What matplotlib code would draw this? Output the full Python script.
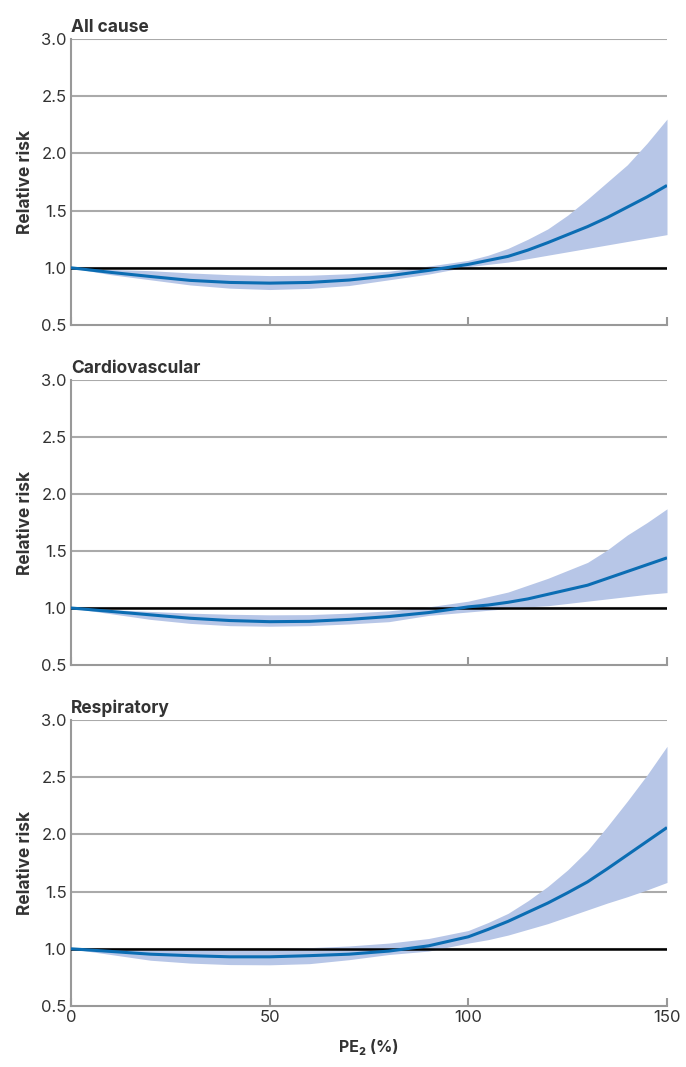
import matplotlib
matplotlib.use("Agg")
import matplotlib.pyplot as plt
import numpy as np

plt.rcParams['font.family'] = ['Inter', 'DejaVu Sans']

x = [0, 10, 20, 30, 40, 50, 60, 70, 80, 90, 100, 105, 110, 115, 120, 125, 130, 135, 140, 145, 150]

titles = ["All cause", "Cardiovascular", "Respiratory"]

all_mid = [1.0, 0.96, 0.924, 0.89, 0.872, 0.866, 0.872, 0.893, 0.93, 0.977, 1.03, 1.065, 1.10, 1.155, 1.22, 1.29, 1.36, 1.44, 1.53, 1.62, 1.72]
all_up  = [1.0, 0.985, 0.975, 0.955, 0.94, 0.932, 0.935, 0.948, 0.97, 1.015, 1.065, 1.11, 1.17, 1.25, 1.34, 1.46, 1.60, 1.75, 1.90, 2.09, 2.30]
all_lo  = [1.0, 0.94, 0.895, 0.85, 0.822, 0.81, 0.82, 0.845, 0.895, 0.945, 1.01, 1.03, 1.05, 1.08, 1.11, 1.14, 1.17, 1.20, 1.23, 1.26, 1.29]

cv_mid = [1.0, 0.97, 0.94, 0.91, 0.89, 0.88, 0.883, 0.90, 0.925, 0.96, 1.01, 1.026, 1.05, 1.08, 1.12, 1.16, 1.20, 1.26, 1.32, 1.38, 1.44]
cv_up  = [1.0, 0.985, 0.97, 0.955, 0.945, 0.94, 0.942, 0.955, 0.975, 1.01, 1.06, 1.10, 1.14, 1.20, 1.26, 1.33, 1.40, 1.51, 1.64, 1.75, 1.87]
cv_lo  = [1.0, 0.95, 0.90, 0.865, 0.845, 0.84, 0.845, 0.86, 0.88, 0.935, 0.965, 0.98, 0.995, 1.01, 1.02, 1.04, 1.06, 1.08, 1.10, 1.12, 1.135]

re_mid = [1.0, 0.977, 0.953, 0.94, 0.93, 0.93, 0.94, 0.953, 0.98, 1.026, 1.105, 1.17, 1.24, 1.32, 1.40, 1.49, 1.585, 1.70, 1.82, 1.94, 2.06]
re_up  = [1.0, 0.995, 0.99, 0.99, 0.995, 1.0, 1.01, 1.025, 1.05, 1.09, 1.16, 1.23, 1.31, 1.42, 1.545, 1.69, 1.86, 2.07, 2.29, 2.52, 2.77]
re_lo  = [1.0, 0.95, 0.90, 0.875, 0.862, 0.86, 0.87, 0.905, 0.95, 0.98, 1.05, 1.08, 1.12, 1.17, 1.22, 1.28, 1.34, 1.40, 1.455, 1.515, 1.58]

mids = [all_mid, cv_mid, re_mid]
ups = [all_up, cv_up, re_up]
los = [all_lo, cv_lo, re_lo]

yticks = [0.5, 1.0, 1.5, 2.0, 2.5, 3.0]
xticks = [0, 50, 100, 150]

fig = plt.figure(figsize=(6.86, 10.67), dpi=100)
left, width = 71 / 686, (667 - 71) / 686
tops = [39, 380, 720]
bots = [325, 665, 1006]

line_col = '#0b6db3'
band_col = '#b7c6e7'
grid_col = '#aaaaaa'
spine_col = '#999999'
text_col = '#333333'

for i in range(3):
    b = 1 - bots[i] / 1067
    h = (bots[i] - tops[i]) / 1067
    ax = fig.add_axes([left, b, width, h])
    ax.set_xlim(0, 150)
    ax.set_ylim(0.5, 3.0)
    ax.set_yticks(yticks)
    ax.set_yticklabels([f"{v:.1f}" for v in yticks], fontsize=12, color=text_col)
    ax.set_xticks(xticks)
    for v in yticks[1:]:
        ax.axhline(v, color=grid_col, lw=1.5, zorder=1)
    ax.fill_between(x, los[i], ups[i], color=band_col, lw=0, zorder=2)
    ax.axhline(1.0, color='black', lw=1.8, zorder=3)
    ax.plot(x, mids[i], color=line_col, lw=2.2, zorder=4, solid_capstyle='butt',
            solid_joinstyle='round')
    for s in ['top', 'right']:
        ax.spines[s].set_visible(False)
    for s in ['left', 'bottom']:
        ax.spines[s].set_color(spine_col)
        ax.spines[s].set_linewidth(1.5)
    ax.tick_params(axis='y', length=0, pad=3)
    ax.tick_params(axis='x', direction='in', length=6, width=1.5, color=spine_col,
                   labelsize=12, labelcolor=text_col, pad=3)
    if i < 2:
        ax.tick_params(axis='x', labelbottom=False)
    ax.set_ylabel("Relative risk", fontsize=12.5, fontweight='bold', color=text_col, labelpad=5)
    ax.text(0, 1.012, titles[i], transform=ax.transAxes, fontsize=12.5, fontweight='bold',
            color=text_col, ha='left', va='bottom')
    if i == 2:
        ax.set_xlabel("PE\u2082 (%)", fontsize=11.5, fontweight='bold', color=text_col, labelpad=10)

fig.savefig("out.png", dpi=100)
